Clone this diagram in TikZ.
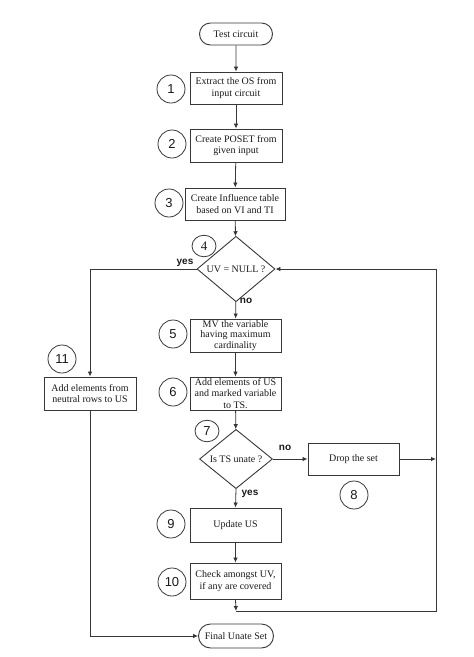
\documentclass[tikz,border=0pt]{standalone}
\usepackage{fontspec}
\setmainfont{Liberation Serif}
\newfontfamily\numfont{Liberation Sans}
\usetikzlibrary{shapes.geometric,shapes.misc,arrows.meta}
\definecolor{ln}{RGB}{55,55,55}
\definecolor{tx}{RGB}{25,25,25}
\tikzset{
  every node/.style={text=tx},
  proc/.style={draw=ln, line width=0.9pt, rectangle, inner sep=0pt,
    minimum width=91pt, minimum height=33pt, align=center,
    font=\fontsize{10}{11.7}\selectfont},
  term/.style={draw=ln, line width=0.9pt, rounded rectangle, inner sep=0pt,
    minimum width=73pt, minimum height=22pt, font=\fontsize{10}{12}\selectfont},
  decision/.style={draw=ln, line width=0.9pt, diamond, inner sep=0pt,
    font=\fontsize{10}{12}\selectfont},
  num/.style={draw=ln, line width=0.8pt, circle, minimum size=28pt, inner sep=0pt,
    font=\numfont\fontsize{13}{13}\selectfont},
  smallnum/.style={num, ellipse, minimum width=24pt, minimum height=21.5pt},
  lab/.style={font=\numfont\bfseries\fontsize{10}{10}\selectfont, inner sep=0pt},
  conn/.style={draw=ln, line width=0.8pt},
  arr/.style={conn, -{Latex[length=5pt,width=4.5pt]}},
}
\begin{document}
\begin{tikzpicture}[x=1pt,y=-1pt]
\path[use as bounding box] (0,0) rectangle (474,657);

% main flow
\node[term] (start) at (236,34) {Test circuit};
\node[proc, minimum width=92pt, minimum height=32pt] (b1) at (236,88) {Extract the OS from\\input circuit};
\node[proc, minimum width=92pt] (b2) at (236,145.5) {Create POSET from\\given input};
\node[proc, minimum width=100pt, minimum height=32pt] (b3) at (235,204) {Create Influence table\\based on VI and TI};
\node[decision, minimum width=78pt, minimum height=52pt] (d4) at (236,269) {UV = NULL ?};
\node[proc, font=\fontsize{10}{10.7}\selectfont] (b5) at (235.5,335.5) {MV the variable\\having maximum\\cardinality};
\node[proc] (b6) at (235.5,393.5) {Add elements of US\\and marked variable\\to TS.};
\node[proc, minimum width=92pt] (b11) at (90,393.5) {Add elements from\\neutral rows to US};
\node[decision, minimum width=73pt, minimum height=48pt] (d7) at (236,459) {Is TS unate ?};
\node[proc, minimum height=32pt] (b8) at (353.5,459) {Drop the set};
\node[proc, minimum height=34pt] (b9) at (235.5,525) {Update US};
\node[proc, minimum height=36pt] (b10) at (235.5,581) {Check amongst UV,\\if any are covered};
\node[term, minimum width=75pt, minimum height=24pt] (end) at (236,636) {Final Unate Set};

% step numbers
\node[num] (c1) at (171,89) {1};
\node[num] (c2) at (172,144) {2};
\node[num] (c3) at (169,203) {3};
\node[smallnum, font=\fontsize{13}{13}\selectfont] (c4) at (204,246) {4};
\node[num] (c5) at (173,334) {5};
\node[num] (c6) at (173,392) {6};
\node[smallnum] (c7) at (207,431) {7};
\node[num] (c8) at (354,495) {8};
\node[num] (c9) at (171,524) {9};
\node[num] (c10) at (172,582) {10};
\node[num] (c11) at (62,359) {11};

% branch labels
\node[lab] (yes4) at (185,263) {yes};
\node[lab] (no4) at (246,301) {no};
\node[lab] (no7) at (285,448) {no};
\node[lab] (yes7) at (250,494) {yes};

% helper coordinates
\coordinate (j10) at (236,611);
\coordinate (rt) at (436,611);
\coordinate (rtop) at (436,269);
\coordinate (r8) at (436,459);
\coordinate (lb) at (90,636);

% connectors
\draw[arr] (start) -- (b1);
\draw[arr] (b1) -- (b2);
\draw[arr] (b2) -- (b3);
\draw[arr] (b3) -- (d4);
\draw[arr] (d4) -- (b5);
\draw[arr] (b5) -- (b6);
\draw[arr] (b6) -- (d7);
\draw[arr] (d4.west) -| (b11.north);
\draw[arr] (d7.east) -- (b8.west);
\draw[arr] (d7.south) -- (b9.north);
\draw[arr] (b9) -- (b10);
\draw[arr] (b10.south) -- (j10);
\draw[arr] (j10) -- (rt) -- (rtop) -- (d4.east);
\draw[arr] (b8.east) -- (r8);
\draw[arr] (b11.south) -- (lb) -- (end.west);
\end{tikzpicture}
\end{document}
